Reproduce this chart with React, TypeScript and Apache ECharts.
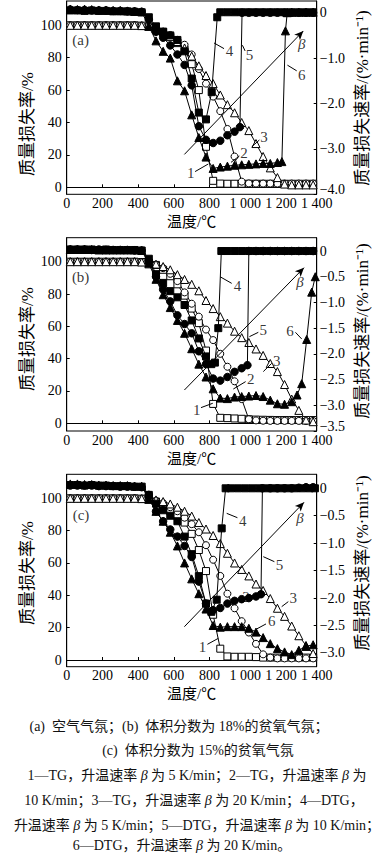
import { useEffect, useRef } from 'react';
import * as echarts from 'echarts';

// ---------- data ----------
const TEMPS = [20, 60, 100, 140, 180, 220, 260, 300, 340, 380, 420, 460, 500, 540, 580, 620, 660, 700, 740, 780, 820, 860, 900, 940, 980, 1020, 1060, 1100, 1140, 1180, 1220, 1260, 1300, 1340, 1380];

const X_TICKS = [0, 200, 400, 600, 800, 1000, 1200, 1400];
const X_TICK_LABELS = ['0', '200', '400', '600', '800', '1 000', '1 200', '1 400'];
const TG_TICKS = [0, 20, 40, 60, 80, 100];
const TG_TICK_LABELS = ['0', '20', '40', '60', '80', '100'];
const DTG_TICKS_A = [0, -1, -2, -3, -4];
const DTG_LABELS_A = ['0', '−1.0', '−2.0', '−3.0', '−4.0'];
const DTG_TICKS_B = [0, -0.5, -1, -1.5, -2, -2.5, -3, -3.5];
const DTG_LABELS_B = ['0', '−0.5', '−1.0', '−1.5', '−2.0', '−2.5', '−3.0', '−3.5'];
const DTG_TICKS_C = [0, -0.5, -1, -1.5, -2, -2.5, -3];
const DTG_LABELS_C = ['0', '−0.5', '−1.0', '−1.5', '−2.0', '−2.5', '−3.0'];

// (a) air
const A_TG1 = [100, 100, 100, 100, 100, 100, 100, 100, 100, 100, 99.8, 99.3, 98, 96, 93, 89, 85, 76, 60, 25, 4, 2.3, 2.2, 2.2, 2.2, 2.2, 2.2, 2.2, 2.2, 2.2, 2.2, 2.2, 2.2, 2.2, 2.2];
const A_TG2 = [100, 100, 100, 100, 100, 100, 100, 100, 100, 100, 99.8, 99.3, 98, 96, 94, 91, 88, 82, 73, 64, 56, 47, 36, 19, 3.5, 2.4, 2.3, 2.3, 2.3, 2.3, 2.3, 2.3, 2.3, 2.3, 2.3];
const A_TG3 = [100, 100, 100, 100, 100, 100, 100, 100, 100, 100, 99.8, 99.5, 98, 96, 93, 90, 86, 81, 75, 69, 64, 57, 51, 46, 40, 35, 27, 19, 12, 6, 2, 1.5, 1.5, 1.5, 1.5];
const A_DTG4 = [[20, 0.05], [60, 0.05], [100, 0.04], [140, 0.05], [180, 0.04], [220, 0.04], [260, 0.03], [300, 0.03], [340, 0.03], [380, 0.02], [420, 0.01], [460, -0.1], [500, -0.3], [540, -0.42], [580, -0.5], [620, -0.6], [660, -0.85], [700, -1.45], [740, -2.2], [780, -2.35], [812, -1.75], [843, -0.1], [860, 0.01], [900, 0.01], [940, 0.01], [980, 0.01], [1020, 0.01], [1060, 0.01], [1100, 0.01], [1140, 0.01], [1180, 0.01], [1220, 0.01], [1260, 0.01], [1300, 0.01], [1340, 0.01], [1380, 0.01]];
const A_DTG5 = [[20, 0.07], [60, 0.06], [100, 0.06], [140, 0.05], [180, 0.05], [220, 0.05], [260, 0.04], [300, 0.04], [340, 0.03], [380, 0.03], [420, 0.02], [460, -0.15], [500, -0.42], [540, -0.55], [580, -0.72], [620, -0.92], [660, -1.15], [700, -1.6], [740, -2.5], [780, -2.8], [820, -2.87], [860, -2.82], [900, -2.7], [940, -2.62], [970, -2.52], [982, 0], [1020, 0], [1060, 0], [1100, 0], [1140, 0], [1180, 0], [1220, 0], [1260, 0], [1300, 0], [1340, 0], [1380, 0]];
const A_DTG6 = [[20, 0.08], [60, 0.07], [100, 0.08], [140, 0.07], [180, 0.06], [220, 0.06], [260, 0.05], [300, 0.05], [340, 0.04], [380, 0.03], [420, 0.02], [460, -0.3], [500, -0.62], [540, -0.85], [580, -1.0], [620, -1.5], [660, -1.72], [700, -2.25], [740, -2.75], [780, -3.18], [820, -3.43], [860, -3.4], [900, -3.38], [940, -3.36], [980, -3.35], [1020, -3.34], [1060, -3.33], [1100, -3.32], [1140, -3.32], [1180, -3.3], [1205, -3.28], [1225, -0.4], [1235, 0], [1260, 0.01], [1300, 0.01], [1340, 0.01], [1380, 0.01]];

// (b) 18% O2
const B_TG1 = [100, 100, 100, 100, 100, 100, 100, 100, 100, 100, 99.8, 99.5, 98, 95, 91, 86, 79, 71, 62, 45, 12, 3.4, 3.2, 3, 2.8, 2.5, 2.3, 2.2, 2.1, 2, 2, 2, 2, 2, 2];
const B_TG2 = [100, 100, 100, 100, 100, 100, 100, 100, 100, 100, 99.8, 99.5, 98, 96, 92.5, 88, 81, 74, 66, 58, 51.5, 43, 35, 26, 15, 2.5, 1.8, 1.6, 1.5, 1.5, 1.5, 1.5, 1.5, 1.5, 1.5];
const B_TG3 = [100, 100, 100, 100, 100, 100, 100, 100, 100, 100, 99.8, 99.5, 98.5, 97, 95, 92, 89, 86, 82, 76, 71, 66, 62, 57, 53, 50, 46, 42, 37, 32, 24, 15, 8, 2, 1];
const B_DTG4 = [[20, 0.03], [60, 0.03], [100, 0.03], [140, 0.03], [180, 0.02], [220, 0.03], [260, 0.02], [300, 0.02], [340, 0.02], [380, 0.02], [420, 0.01], [460, -0.15], [500, -0.45], [540, -0.62], [580, -0.78], [620, -0.9], [660, -1.05], [700, -1.35], [740, -1.7], [780, -2.05], [810, -2.2], [830, -2.17], [849, -1.5], [866, 0], [900, 0], [940, 0], [980, 0], [1020, 0], [1060, 0], [1100, 0], [1140, 0], [1180, 0], [1220, 0], [1260, 0], [1300, 0], [1340, 0], [1380, 0]];
const B_DTG5 = [[20, 0.03], [60, 0.03], [100, 0.03], [140, 0.02], [180, 0.03], [220, 0.02], [260, 0.02], [300, 0.02], [340, 0.02], [380, 0.01], [420, 0.01], [460, -0.2], [500, -0.5], [540, -0.75], [580, -0.98], [620, -1.25], [660, -1.42], [700, -1.6], [740, -1.95], [780, -2.2], [820, -2.48], [860, -2.52], [900, -2.45], [940, -2.35], [980, -2.28], [1012, -2.22], [1020, 0], [1060, 0], [1100, 0], [1140, 0], [1180, 0], [1220, 0], [1260, 0], [1300, 0], [1340, 0], [1380, 0]];
const B_DTG6 = [[20, 0.03], [60, 0.03], [100, 0.03], [140, 0.03], [180, 0.02], [220, 0.02], [260, 0.02], [300, 0.02], [340, 0.02], [380, 0.02], [420, 0.01], [460, -0.25], [500, -0.55], [540, -0.85], [580, -1.1], [620, -1.35], [660, -1.6], [700, -1.9], [740, -2.2], [780, -2.45], [820, -2.68], [860, -2.86], [900, -2.87], [940, -2.84], [980, -2.83], [1020, -2.82], [1060, -2.81], [1100, -2.83], [1140, -2.9], [1180, -2.97], [1220, -2.98], [1260, -2.93], [1290, -2.8], [1316, -2.58], [1344, -1.72], [1372, -0.8], [1392, -0.5]];

// (c) 15% O2
const C_TG1 = [100, 100, 100, 100, 100, 100, 100, 100, 100, 100, 99.8, 99.5, 98, 95.5, 92, 89, 85, 78, 68, 55, 28, 7, 2.2, 2, 2, 2, 1.8, 1.5, 1.5, 1.5, 1.5, 1.5, 1.5, 1.5, 1.5];
const C_TG2 = [100, 100, 100, 100, 100, 100, 100, 100, 100, 100, 99.8, 99.5, 98.5, 97, 94.5, 92, 88, 84, 79, 71, 62, 52, 41, 32, 24, 17, 10, 3.5, 1.5, 1, 1, 1, 1, 1, 1];
const C_TG3 = [100, 100, 100, 100, 100, 100, 100, 100, 100, 100, 99.8, 99.5, 99, 98, 96.5, 94.5, 92, 89, 85, 81, 77, 72, 66, 60, 56, 52, 47, 43, 38, 32, 27, 21, 15, 9, 4];
const C_DTG4 = [[20, 0.06], [60, 0.06], [100, 0.05], [140, 0.06], [180, 0.05], [220, 0.05], [260, 0.04], [300, 0.04], [340, 0.04], [380, 0.03], [420, 0.03], [460, -0.12], [500, -0.28], [540, -0.4], [580, -0.5], [620, -0.6], [660, -0.88], [700, -1.2], [740, -1.6], [780, -2.1], [810, -2.25], [840, -2.03], [868, -0.73], [890, 0], [920, 0], [960, 0], [1000, 0], [1040, 0], [1080, 0], [1120, 0], [1160, 0], [1200, 0], [1240, 0], [1280, 0], [1320, 0], [1360, 0], [1390, 0]];
const C_DTG5 = [[20, 0.05], [60, 0.05], [100, 0.05], [140, 0.05], [180, 0.04], [220, 0.04], [260, 0.04], [300, 0.03], [340, 0.03], [380, 0.03], [420, 0.02], [460, -0.12], [500, -0.42], [540, -0.6], [580, -0.75], [620, -0.88], [660, -1.05], [700, -1.25], [740, -1.7], [780, -2.1], [820, -2.22], [860, -2.18], [900, -2.1], [940, -2.05], [980, -2.02], [1020, -2.0], [1060, -1.97], [1088, -1.93], [1096, 0], [1140, 0], [1180, 0], [1220, 0], [1260, 0], [1300, 0.01], [1340, 0.02], [1380, 0.02]];
const C_DTG6 = [[20, 0.08], [60, 0.08], [100, 0.07], [140, 0.07], [180, 0.06], [220, 0.06], [260, 0.05], [300, 0.05], [340, 0.05], [380, 0.04], [420, 0.04], [460, -0.2], [500, -0.42], [540, -0.6], [580, -0.8], [620, -1.05], [660, -1.36], [700, -1.65], [740, -1.92], [780, -2.2], [820, -2.5], [860, -2.53], [900, -2.52], [940, -2.52], [980, -2.52], [1020, -2.55], [1060, -2.62], [1100, -2.72], [1140, -2.83], [1180, -2.92], [1220, -2.98], [1260, -3.03], [1300, -2.95], [1340, -2.88], [1380, -2.85]];

// annotations (data coordinates, left axis)
const A_NOTES = [['(a)', 78, 91.2], ['1', 694, 8.6], ['2', 993, 20.9], ['3', 1105, 30.8], ['4', 911, 84.2], ['5', 1023, 81.5], ['6', 1316, 69.2], ['β', 1316, 88.7]];
const A_LEADERS = [[[719, 9.7], [793, 14.4]], [[967, 19.3], [920, 15.4]], [[1079, 29.2], [1036, 25]], [[881, 85.6], [825, 89.1]], [[999, 84.2], [984, 87.7]], [[1288, 71.9], [1236, 75.4]]];
const A_ARROW = [[659, 20.3], [1325, 96.5]];
const B_NOTES = [['(b)', 78, 90.7], ['1', 728, 8.2], ['2', 1030, 27.2], ['3', 1176, 38.8], ['4', 956, 85], ['5', 1101, 57.7], ['6', 1251, 57.3], ['β', 1307, 87.6]];
const B_LEADERS = [[[752, 9.7], [818, 12.4]], [[1002, 25.8], [933, 21.2]], [[1148, 37.1], [1101, 32]], [[924, 86.6], [859, 90.7]], [[1073, 56.3], [1023, 53.6]], [[1281, 56.3], [1316, 52.2]]];
const B_ARROW = [[659, 20.6], [1329, 96.3]];
const C_NOTES = [['(c)', 80, 89.7], ['1', 760, 8.2], ['2', 1004, 39.2], ['3', 1269, 38.1], ['4', 986, 86], ['5', 1191, 58.6], ['6', 1148, 24], ['β', 1307, 88]];
const C_LEADERS = [[[788, 9.7], [849, 13.4]], [[974, 37.7], [915, 34]], [[1241, 36.1], [1204, 33]], [[956, 88], [896, 90.7]], [[1163, 60.8], [1101, 63.9]], [[1116, 22.3], [1064, 19.2]]];
const C_ARROW = [[659, 20.6], [1329, 97.5]];

const X_NAME = '温度/℃';
const TG_NAME = '质量损失率/%';
const DTG_NAME = '质量损失速率/(%·min⁻¹)';
const CAPTION = [
  '(a)  空气气氛；(b)  体积分数为 18%的贫氧气氛；',
  '(c)  体积分数为 15%的贫氧气氛',
  '1—TG，升温速率 {i|β} 为 5 K/min；2—TG，升温速率 {i|β} 为',
  '10 K/min；3—TG，升温速率 {i|β} 为 20 K/min；4—DTG，',
  '升温速率 {i|β} 为 5 K/min；5—DTG，升温速率 {i|β} 为 10 K/min；',
  '6—DTG，升温速率 {i|β} 为 20 K/min。',
];

// ---------- layout / style ----------
const SERIF = '"Liberation Serif", "Noto Sans CJK SC", serif';
const PANELS = [
  { top: 1, height: 193.3, left: [-4.32, 115.0], right: [-4.0, 0.258], rTicks: DTG_TICKS_A, rLabels: DTG_LABELS_A, tg: [A_TG1, A_TG2, A_TG3], dtg: [A_DTG4, A_DTG5, A_DTG6], notes: A_NOTES, leaders: A_LEADERS, arrow: A_ARROW, nameL: 124, nameR: 98, lift: true },
  { top: 237.7, height: 193.3, left: [-4.76, 114.85], right: [-3.5, 0.259], rTicks: DTG_TICKS_B, rLabels: DTG_LABELS_B, tg: [B_TG1, B_TG2, B_TG3], dtg: [B_DTG4, B_DTG5, B_DTG6], notes: B_NOTES, leaders: B_LEADERS, arrow: B_ARROW, nameL: 339, nameR: 331, lift: true },
  { top: 474.3, height: 192.4, left: [-4.14, 114.84], right: [-3.25, 0.255], rTicks: DTG_TICKS_C, rLabels: DTG_LABELS_C, tg: [C_TG1, C_TG2, C_TG3], dtg: [C_DTG4, C_DTG5, C_DTG6], notes: C_NOTES, leaders: C_LEADERS, arrow: C_ARROW, nameL: 573, nameR: 563, lift: false },
];
const MARKERS = [
  { symbol: 'rect', fill: '#fff', size: 7 },
  { symbol: 'circle', fill: '#fff', size: 7 },
  { symbol: 'triangle', fill: '#fff', size: 8 },
  { symbol: 'rect', fill: '#000', size: 7 },
  { symbol: 'circle', fill: '#000', size: 7.5 },
  { symbol: 'triangle', fill: '#000', size: 8 },
];
const CAPTION_POS = [[179, 726], [198, 750], [197, 775], [194, 800], [197, 825], [182, 845]];

function labelOf(ticks: number[], labels: string[], lift = false) {
  const lowest = Math.min(...ticks);
  return (v: number) => {
    const i = ticks.findIndex((t) => Math.abs(t - v) < 1e-6);
    if (i < 0) return '';
    if (lift && Math.abs(v - lowest) < 1e-6) return `{lo|${labels[i]}}`;
    return labels[i];
  };
}

function buildOption() {
  const grid: any[] = [];
  const xAxis: any[] = [];
  const yAxis: any[] = [];
  const series: any[] = [];
  const graphic: any[] = [];
  const tickLabel = { color: '#000', fontSize: 14, fontFamily: SERIF };
  const line = { lineStyle: { color: '#000', width: 1 } };

  PANELS.forEach((p, i) => {
    grid.push({ left: 66.7, top: p.top, width: 250, height: p.height, show: true, borderColor: '#000', borderWidth: 1, backgroundColor: 'transparent', containLabel: false, outerBoundsMode: 'none' });
    xAxis.push({
      gridIndex: i, type: 'value', min: 0, max: 1400,
      axisLine: line, splitLine: { show: false },
      axisTick: { inside: true, length: 3, customValues: X_TICKS, lineStyle: { color: '#000' } },
      axisLabel: { ...tickLabel, margin: 2, customValues: X_TICKS, formatter: labelOf(X_TICKS, X_TICK_LABELS) },
      name: X_NAME, nameLocation: 'middle', nameGap: 20,
      nameTextStyle: { color: '#000', fontSize: 15, fontFamily: SERIF },
    });
    yAxis.push({
      gridIndex: i, type: 'value', position: 'left', min: p.left[0], max: p.left[1],
      axisLine: { show: true, ...line }, splitLine: { show: false },
      axisTick: { show: true, inside: true, length: 3, customValues: TG_TICKS, lineStyle: { color: '#000' } },
      axisLabel: { ...tickLabel, margin: 5, customValues: TG_TICKS, formatter: labelOf(TG_TICKS, TG_TICK_LABELS) },
    });
    yAxis.push({
      gridIndex: i, type: 'value', position: 'right', min: p.right[0], max: p.right[1],
      axisLine: { show: true, ...line }, splitLine: { show: false },
      axisTick: { show: true, inside: true, length: 3, customValues: p.rTicks, lineStyle: { color: '#000' } },
      axisLabel: {
        ...tickLabel, margin: 3, customValues: p.rTicks, formatter: labelOf(p.rTicks, p.rLabels, p.lift),
        rich: { lo: { fontSize: 14, fontFamily: SERIF, color: '#000', padding: [0, 0, 10, 0] } },
      },
    });
    const curves = [...p.tg.map((vals) => vals.map((v, k) => [TEMPS[k], v])), ...p.dtg];
    curves.forEach((data, k) => {
      const m = MARKERS[k];
      series.push({
        type: 'line', xAxisIndex: i, yAxisIndex: k < 3 ? 2 * i : 2 * i + 1,
        data, symbol: m.symbol, symbolSize: m.size, showSymbol: true, showAllSymbol: true,
        itemStyle: { color: m.fill, borderColor: '#000', borderWidth: 1 },
        lineStyle: { color: '#000', width: 1 }, z: k < 3 ? 3 : 4, silent: true,
      });
    });
    series.push({
      type: 'scatter', xAxisIndex: i, yAxisIndex: 2 * i, symbolSize: 1, silent: true, z: 6,
      itemStyle: { color: 'transparent' },
      data: p.notes.map((n) => ({
        name: n[0], value: [n[1], n[2]],
        label: n[0] === 'β' ? { fontStyle: 'italic' } : {},
      })),
      label: { show: true, position: 'inside', formatter: '{b}', color: '#000', fontSize: 15, fontFamily: SERIF },
      markLine: {
        silent: true, symbol: 'none', label: { show: false },
        lineStyle: { color: '#000', width: 1, type: 'solid' },
        data: [
          ...p.leaders.map((l) => [{ coord: l[0] }, { coord: l[1] }]),
          [{ coord: p.arrow[0], symbol: 'none' }, { coord: p.arrow[1], symbol: 'arrow', symbolSize: [6, 9] }],
        ],
      },
    });
    graphic.push({
      type: 'text', x: 27, y: p.nameL, rotation: Math.PI / 2,
      style: { text: TG_NAME, fontSize: 17, fontFamily: SERIF, fill: '#000', align: 'center', verticalAlign: 'middle' },
    });
    graphic.push({
      type: 'text', x: 362, y: p.nameR, rotation: Math.PI / 2,
      style: { text: DTG_NAME, fontSize: 17, fontFamily: SERIF, fill: '#000', align: 'center', verticalAlign: 'middle' },
    });
  });

  CAPTION.forEach((t, i) => {
    graphic.push({
      type: 'text', x: CAPTION_POS[i][0], y: CAPTION_POS[i][1],
      style: {
        text: t, fontSize: 14, fontFamily: SERIF, fill: '#111', align: 'center', verticalAlign: 'middle',
        rich: { i: { fontStyle: 'italic', fontSize: 14, fontFamily: SERIF, fill: '#111' } },
      },
    });
  });

  return { animation: false, backgroundColor: '#fff', grid, xAxis, yAxis, series, graphic };
}

export default function App() {
  const ref = useRef<HTMLDivElement>(null);
  useEffect(() => {
    if (!ref.current) return;
    const chart = echarts.init(ref.current, null, { renderer: 'svg' });
    chart.setOption(buildOption() as any);
    return () => chart.dispose();
  }, []);
  return <div ref={ref} style={{ position: 'absolute', left: 0, top: 0, width: 391, height: 853, background: '#fff' }} />;
}
